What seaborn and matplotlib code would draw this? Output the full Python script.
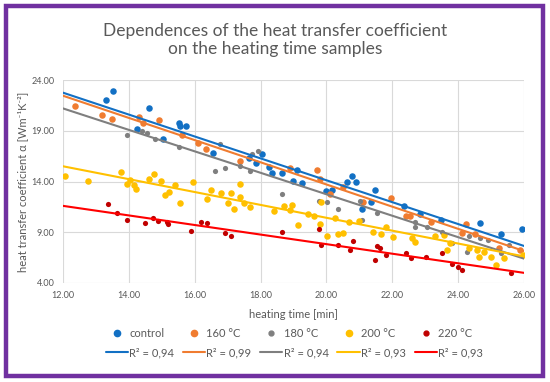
import numpy as np
import pandas as pd
import seaborn as sns
import matplotlib.pyplot as plt
from matplotlib.patches import Rectangle
from matplotlib.lines import Line2D

# heating time [min] / heat transfer coefficient
control_x = [13.31, 13.53, 14.26, 14.62, 15.03, 15.53, 15.55, 15.73, 16.57, 17.65, 17.86, 18.03, 18.27, 18.34,
             18.64, 18.99, 19.12, 19.25, 19.98, 20.18, 20.61, 20.77, 20.89, 21.07, 21.34, 21.49, 22.35, 22.84,
             23.48, 24.65, 25.31, 25.94]
control_y = [22.06, 22.88, 19.17, 21.27, 18.16, 19.73, 19.47, 19.50, 16.84, 16.29, 15.85, 16.71, 15.40, 14.81,
             14.81, 14.03, 15.13, 13.88, 13.09, 13.16, 13.98, 14.54, 13.98, 11.29, 12.01, 13.16, 11.59, 10.77,
             10.18, 9.94, 8.80, 9.32]

t160_x = [12.36, 13.17, 13.48, 14.32, 14.42, 14.93, 15.62, 16.11, 16.33, 17.37, 18.88, 19.72, 19.79, 20.10,
          20.51, 21.12, 21.97, 22.42, 22.54, 23.17, 24.11, 24.24, 24.51, 25.25, 25.87]
t160_y = [21.43, 20.54, 20.16, 20.37, 19.76, 20.06, 18.61, 17.76, 17.18, 16.02, 15.32, 15.16, 14.26, 12.79,
          13.46, 12.01, 12.34, 10.62, 10.64, 10.00, 8.90, 9.82, 8.82, 7.42, 7.25]

t180_x = [13.95, 14.39, 14.55, 14.79, 15.52, 16.62, 16.76, 16.92, 17.38, 17.69, 17.73, 17.93, 18.64, 19.77,
          20.03, 20.35, 21.02, 21.09, 21.53, 22.69, 22.69, 23.04, 23.50, 23.80, 24.28, 24.34, 24.66, 24.91,
          25.30, 25.53]
t180_y = [18.54, 18.93, 18.75, 18.22, 17.41, 15.07, 17.67, 15.30, 15.53, 15.07, 16.71, 17.04, 12.77, 12.11,
          11.98, 11.29, 12.04, 10.17, 10.86, 10.04, 9.47, 9.55, 9.00, 7.91, 7.09, 8.60, 8.40, 8.24,
          7.00, 7.75]

t200_x = [12.05, 12.75, 13.75, 13.95, 14.03, 14.16, 14.22, 14.62, 14.76, 14.97, 15.10, 15.23, 15.40, 15.55,
          15.94, 16.36, 16.49, 16.80, 17.02, 17.09, 17.20, 17.37, 17.37, 17.50, 17.69, 18.40, 18.72, 18.89,
          18.94, 19.15, 19.45, 19.63, 19.80, 19.85, 20.03, 20.25, 20.35, 20.49, 20.69, 21.00, 21.40, 21.65,
          21.81, 22.02, 22.59, 22.70, 23.31, 23.56, 23.66, 23.75, 24.32, 24.56, 24.63, 24.78, 25.00, 25.14,
          25.38, 25.98]
t200_y = [14.50, 14.09, 14.95, 13.75, 14.15, 13.62, 13.23, 14.23, 14.76, 14.05, 12.65, 12.94, 13.68, 11.91,
          13.92, 12.30, 13.16, 12.84, 11.91, 12.90, 11.26, 13.80, 12.51, 11.91, 11.44, 11.11, 11.59, 11.19,
          11.69, 9.72, 10.80, 10.65, 9.79, 12.01, 8.64, 10.40, 8.81, 8.93, 10.04, 10.07, 9.06, 8.86,
          9.49, 8.52, 8.40, 8.05, 8.60, 8.70, 7.25, 7.97, 7.42, 7.25, 6.59, 7.09, 6.54, 5.77,
          6.48, 6.76]

t220_x = [13.36, 13.63, 13.95, 14.49, 14.74, 14.89, 15.15, 15.20, 15.89, 16.19, 16.38, 16.92, 17.09, 18.65,
          19.78, 19.83, 20.34, 20.73, 20.82, 21.47, 21.55, 21.64, 21.81, 22.43, 22.57, 23.02, 23.50, 23.80,
          24.01, 24.13, 25.61]
t220_y = [11.78, 10.87, 10.21, 9.94, 10.37, 10.11, 10.04, 9.82, 9.16, 10.04, 9.94, 8.96, 8.63, 9.05,
          9.29, 7.75, 7.75, 7.22, 8.17, 6.27, 7.60, 7.42, 6.76, 6.93, 6.43, 6.56, 6.98, 5.88,
          5.55, 5.31, 5.01]

series_names = ["control", "160 °C", "180 °C", "200 °C", "220 °C"]
r2_labels = ["R² = 0,94", "R² = 0,99", "R² = 0,94", "R² = 0,93", "R² = 0,93"]

# linear trend lines, value at the start and end of the time range
trend_x = [12.0, 26.0]
trend_start = [22.75, 22.45, 21.2, 15.5, 11.6]
trend_end = [7.65, 7.15, 6.4, 6.62, 5.0]

x_ticks = [12, 14, 16, 18, 20, 22, 24, 26]
y_ticks = [4, 9, 14, 19, 24]

dot_colors = ["#1270c4", "#f07c30", "#7f7f7f", "#ffc000", "#c00000"]
line_colors = ["#1270c4", "#f07c30", "#7f7f7f", "#ffc000", "#ff0000"]
dot_sizes = [22, 22, 14, 22, 14]

frames = []
for name, xs, ys in zip(series_names,
                        [control_x, t160_x, t180_x, t200_x, t220_x],
                        [control_y, t160_y, t180_y, t200_y, t220_y]):
    frames.append(pd.DataFrame({"time": xs, "alpha": ys, "group": name}))
data = pd.concat(frames, ignore_index=True)

sns.set_style("white")
plt.rcParams["font.family"] = ["Lato", "DejaVu Sans"]
text_gray = "#595959"

fig = plt.figure(figsize=(5.5, 3.82), dpi=100)
ax = fig.add_axes([63 / 550, 1 - 283 / 382, 461 / 550, 203 / 382])

for i, name in enumerate(series_names):
    sub = data[data["group"] == name]
    sns.scatterplot(x="time", y="alpha", data=sub, color=dot_colors[i], s=dot_sizes[i],
                    linewidth=0, ax=ax, zorder=3)

for i in range(5):
    sns.lineplot(x=trend_x, y=[trend_start[i], trend_end[i]], color=line_colors[i],
                 linewidth=1.5, ax=ax, zorder=4)

ax.set_xlim(12, 26)
ax.set_ylim(4, 24)
ax.set_xticks(x_ticks)
ax.set_yticks(y_ticks)
ax.set_xticklabels(["%.2f" % v for v in x_ticks])
ax.set_yticklabels(["%.2f" % v for v in y_ticks])
ax.tick_params(length=0, labelsize=6.5, colors=text_gray, pad=6)
ax.grid(True, color="#d9d9d9", linewidth=0.8)
for s in ax.spines.values():
    s.set_visible(False)
ax.set_xlabel("heating time [min]", fontsize=8, color=text_gray, labelpad=6)
ax.set_ylabel("heat transfer coefficient α [Wm⁻¹K⁻²]", fontsize=8, color=text_gray)
ax.yaxis.set_label_coords(-0.076, 0.5)

fig.text(0.5, 1 - 40 / 382, "Dependences of the heat transfer coefficient\non the heating time samples",
         ha="center", va="center", fontsize=12.5, color=text_gray, linespacing=1.15)

# legend: dots on the first row, trend lines on the second
handles, labels = [], []
for i in range(5):
    handles.append(Line2D([], [], marker="o", linestyle="", color=dot_colors[i],
                          markersize=4.5 if dot_sizes[i] > 15 else 3.5))
    labels.append(series_names[i])
    handles.append(Line2D([], [], color=line_colors[i], linewidth=1.5))
    labels.append(r2_labels[i])
fig.legend(handles, labels, ncol=5, loc="center", bbox_to_anchor=(0.535, 1 - 343 / 382),
           frameon=False, fontsize=8, labelcolor=text_gray, handlelength=2.0,
           handletextpad=0.1, columnspacing=0.8, labelspacing=0.75)

fig.patches.append(Rectangle((6 / 550, 6 / 382), 537 / 550, 370 / 382, transform=fig.transFigure,
                             fill=False, edgecolor="#7030a0", linewidth=3.2))

fig.savefig("out.png", dpi=100)
